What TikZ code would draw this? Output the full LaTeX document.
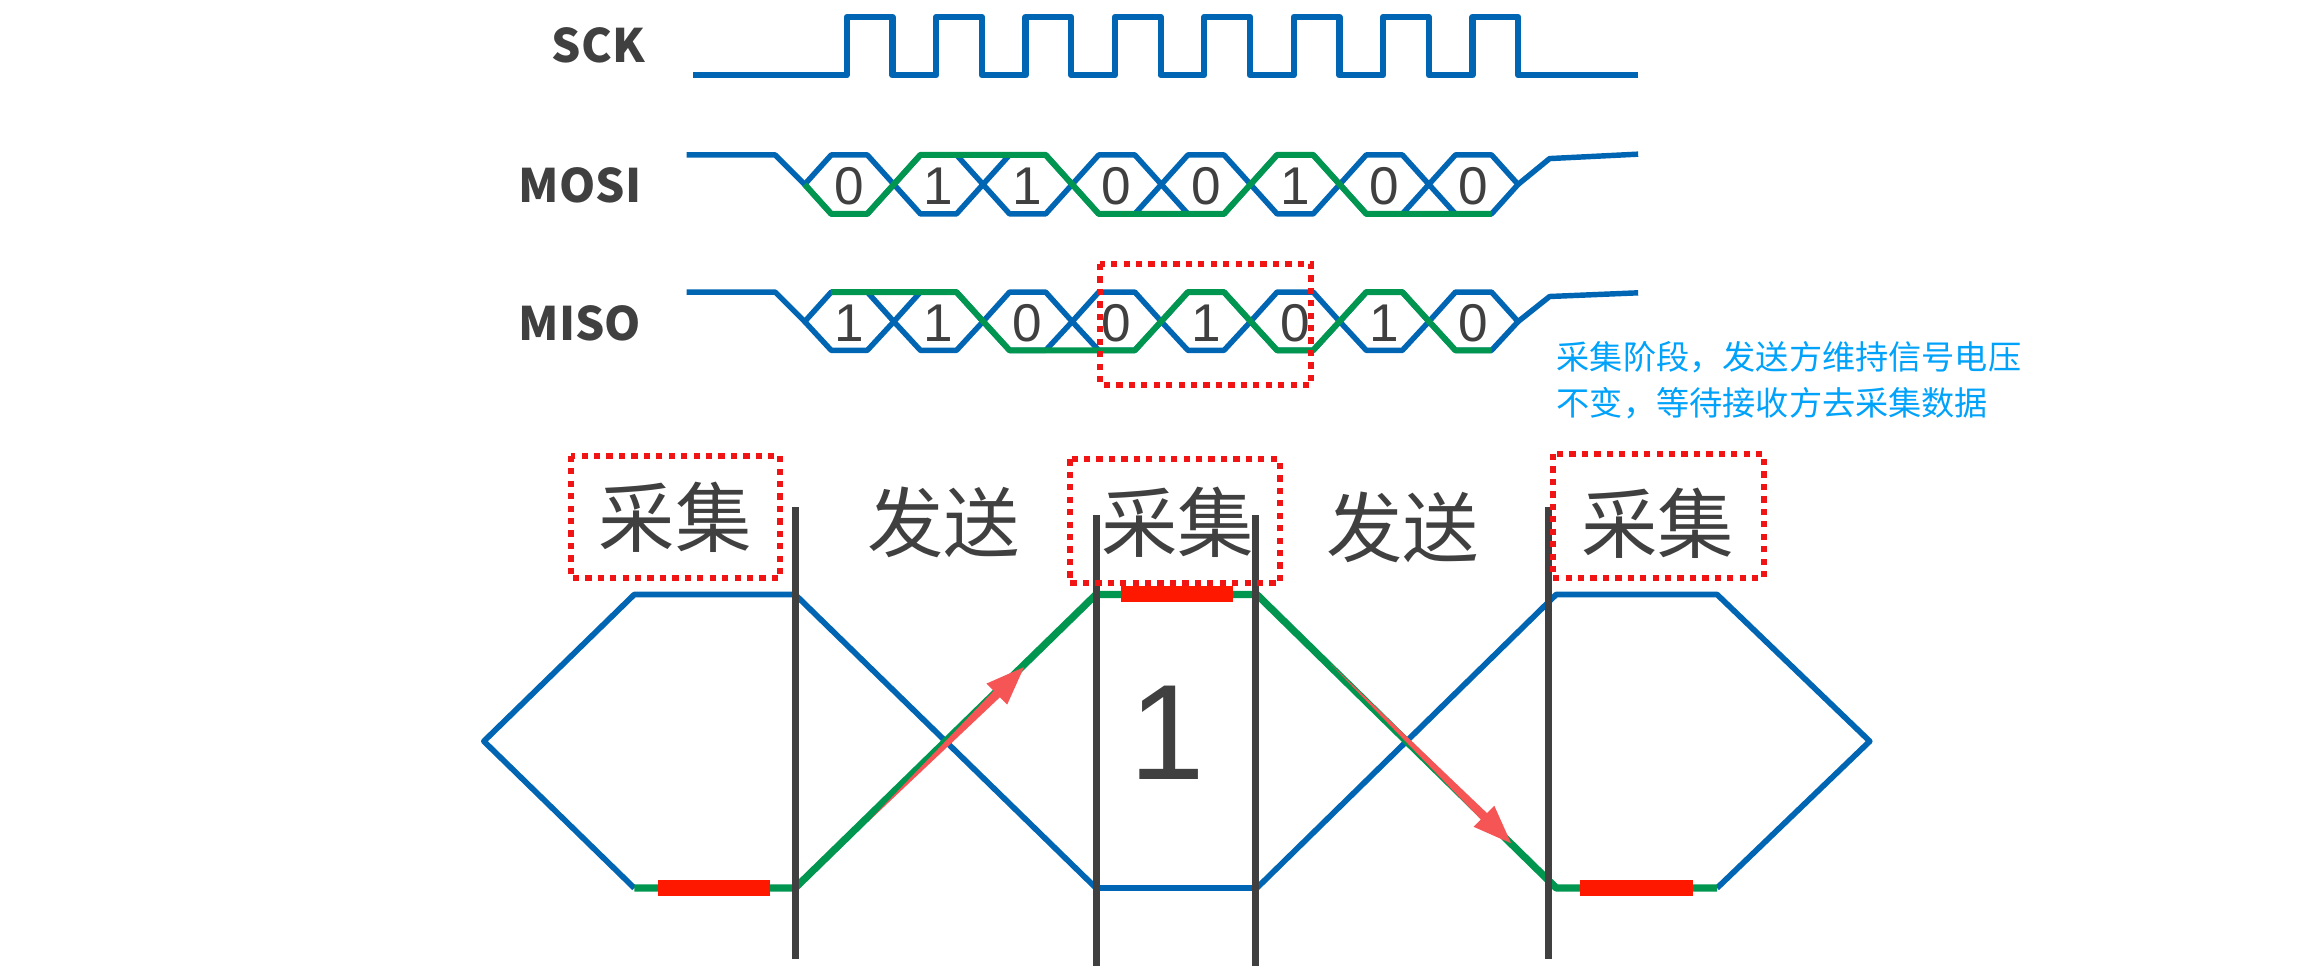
\documentclass[tikz,border=0pt]{standalone}
\usepackage{fontspec}
\usetikzlibrary{calc}
\newfontfamily\cjk{Noto Sans CJK SC}
\newfontfamily\lsans{Liberation Sans}
\definecolor{wblue}{RGB}{0,102,179}
\definecolor{wgreen}{RGB}{0,150,80}
\definecolor{barred}{RGB}{255,24,0}
\definecolor{dotred}{RGB}{240,20,20}
\definecolor{arrred}{RGB}{245,85,85}
\definecolor{txt}{RGB}{64,64,64}
\definecolor{annblue}{RGB}{0,162,250}
\tikzset{
  wave/.style={wblue, line width=2.1pt, line join=round},
  gwave/.style={wgreen, line width=2.3pt, line join=round},
  clk/.style={wblue, line width=2.4pt, line join=round},
  bigblue/.style={wblue, line width=2.2pt, line join=round},
  biggreen/.style={wgreen, line width=2.8pt, line join=round},
  sepline/.style={txt, line width=2.7pt},
  redbar/.style={barred, line width=5.9pt},
  dotbox/.style={dotred, line width=2.3pt, dash pattern=on 2.4pt off 2.4pt},
  siglabel/.style={anchor=base east, inner sep=0pt, font=\cjk\bfseries\fontsize{17.8}{19}\selectfont, text=txt},
  bit/.style={inner sep=0pt, font=\lsans\fontsize{20.5}{21}\selectfont, text=txt},
  phase/.style={inner sep=0pt, font=\cjk\fontsize{29.5}{30}\selectfont, text=txt},
  bigone/.style={inner sep=0pt, font=\lsans\fontsize{52.4}{53}\selectfont, text=txt},
  ann/.style={anchor=west, inner sep=0pt, font=\cjk\fontsize{12.8}{14}\selectfont, text=annblue},
}
\begin{document}
\begin{tikzpicture}[x=0.02cm,y=-0.02cm]
\useasboundingbox (0,0) rectangle (1568,659);
\fill[white] (0,0) rectangle (1568,659);

% ---------- labels ----------
\node[siglabel] (sck) at (437.4,42.5) {SCK};
\node[siglabel] (mosi) at (435,137.5) {MOSI};
\node[siglabel] (miso) at (435,231) {MISO};

% ---------- SCK ----------
\draw[clk] (470,51) -- (574,51)
  -- (574,11.5) -- (605,11.5) -- (605,51) -- (634.6,51)
  -- (634.6,11.5) -- (665.6,11.5) -- (665.6,51) -- (695.2,51)
  -- (695.2,11.5) -- (726.2,11.5) -- (726.2,51) -- (755.8,51)
  -- (755.8,11.5) -- (786.8,11.5) -- (786.8,51) -- (816.4,51)
  -- (816.4,11.5) -- (847.4,11.5) -- (847.4,51) -- (877,51)
  -- (877,11.5) -- (908,11.5) -- (908,51) -- (937.6,51)
  -- (937.6,11.5) -- (968.6,11.5) -- (968.6,51) -- (998.2,51)
  -- (998.2,11.5) -- (1029.2,11.5) -- (1029.2,51) -- (1110.5,51);

% ---------- MOSI ----------
\draw[wave] (465.5,105) -- (525.5,105) -- (545.5,125);
\draw[wave] (1029.1,125) -- (1050.5,107.5) -- (1110.5,104.5);
\foreach \k in {0,...,7}{
  \draw[wave] ({545.5+60.45*\k},125) -- ({545.5+60.45*\k+18},105)
    -- ({545.5+60.45*(\k+1)-18},105) -- ({545.5+60.45*(\k+1)},125)
    -- ({545.5+60.45*(\k+1)-18},145) -- ({545.5+60.45*\k+18},145) -- cycle;
}
\draw[gwave] (545.5,125) -- (563.5,145) -- (587.95,145) -- (623.95,105)
  -- (708.85,105) -- (744.85,145) -- (829.75,145) -- (865.75,105)
  -- (890.2,105) -- (926.2,145) -- (1011.1,145);
\foreach \b [count=\k from 0] in {0,1,1,0,0,1,0,0}{
  \node[bit] (mosib\k) at ({545.5+60.45*\k+30.2},126) {\b};
}

% ---------- MISO ----------
\draw[wave] (465.5,198) -- (525.5,198) -- (545.5,218);
\draw[wave] (1029.1,218) -- (1050.5,201) -- (1110.5,198.5);
\foreach \k in {0,...,7}{
  \draw[wave] ({545.5+60.45*\k},218) -- ({545.5+60.45*\k+18},198)
    -- ({545.5+60.45*(\k+1)-18},198) -- ({545.5+60.45*(\k+1)},218)
    -- ({545.5+60.45*(\k+1)-18},237.5) -- ({545.5+60.45*\k+18},237.5) -- cycle;
}
\draw[gwave] (563.5,198) -- (648.4,198) -- (684.4,237.5) -- (769.3,237.5)
  -- (805.3,198) -- (829.75,198) -- (865.75,237.5) -- (890.2,237.5)
  -- (926.2,198) -- (950.65,198) -- (986.65,237.5) -- (1011.1,237.5);
\foreach \b [count=\k from 0] in {1,1,0,0,1,0,1,0}{
  \node[bit] (misob\k) at ({545.5+60.45*\k+30.2},219) {\b};
}
\draw[dotbox] (746,179) rectangle (889,261);

% ---------- annotation ----------
\node[ann] (ann1) at (1055,242) {采集阶段，发送方维持信号电压};
\node[ann] (ann2) at (1055,273) {不变，等待接收方去采集数据};

% ---------- big waveform ----------
\draw[bigblue] (430,602) -- (328,502.5) -- (430,403) -- (539,403) -- (743,602)
  -- (852,602) -- (1055,403) -- (1164,403) -- (1267.5,502.5) -- (1164,602);
\draw[biggreen] (430,602) -- (539,602) -- (743,403) -- (852,403) -- (1055,602) -- (1164,602);

\draw[sepline] (539,344) -- (539,650);
\draw[sepline] (743,349) -- (743,655);
\draw[sepline] (851,349) -- (851,655);
\draw[sepline] (1050,344) -- (1050,650);

\draw[redbar] (446,602) -- (522,602);
\draw[redbar] (760,402.7) -- (836,402.7);
\draw[redbar] (1071,602) -- (1147.6,602);

% arrows
\coordinate (t1) at (589,556.6);
\coordinate (p1) at (694.2,452.2);
\coordinate (b1) at ($(p1)!0.52cm!(t1)$);
\fill[arrred] (t1) -- ($(b1)!0.06cm!90:(p1)$) -- ($(b1)!0.2cm!90:(p1)$) -- (p1)
  -- ($(b1)!0.2cm!-90:(p1)$) -- ($(b1)!0.06cm!-90:(p1)$) -- cycle;
\coordinate (t2) at (902,450);
\coordinate (p2) at (1024.4,571.7);
\coordinate (b2) at ($(p2)!0.52cm!(t2)$);
\fill[arrred] (t2) -- ($(b2)!0.06cm!90:(p2)$) -- ($(b2)!0.2cm!90:(p2)$) -- (p2)
  -- ($(b2)!0.2cm!-90:(p2)$) -- ($(b2)!0.06cm!-90:(p2)$) -- cycle;

\node[bigone] (one) at (791,496.5) {1};

% phase labels
\node[phase] (cap1) at (457.8,351) {采集};
\node[phase] (snd1) at (639.7,354) {发送};
\node[phase] (cap2) at (798.3,354) {采集};
\node[phase] (snd2) at (951,357.5) {发送};
\node[phase] (cap3) at (1123.6,354.5) {采集};

\draw[dotbox] (387,309) rectangle (529,392);
\draw[dotbox] (725.4,311.4) rectangle (867.4,395.5);
\draw[dotbox] (1052.7,307.8) rectangle (1195.5,392);
\end{tikzpicture}
\end{document}
